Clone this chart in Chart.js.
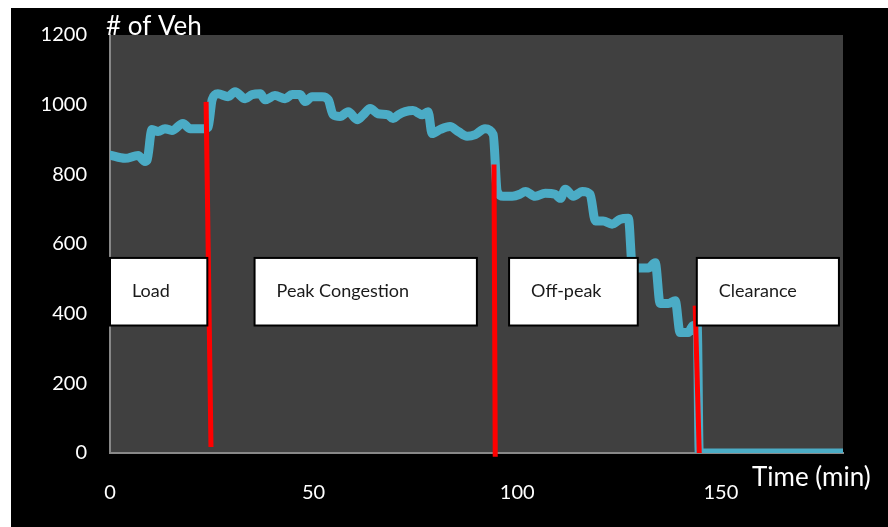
<!DOCTYPE html>
<html lang="en">

<head>
    <meta charset="UTF-8">
    <title>Vehicles over time</title>
    <script src="https://cdn.jsdelivr.net/npm/chart.js"></script>
    <style>
        body {
            margin: 0;
            background-color: #ffffff;
        }

        #frame {
            position: absolute;
            left: 11px;
            top: 8px;
            width: 877px;
            height: 519px;
            background-color: #000000;
        }
    </style>
</head>

<body>
    <div id="frame">
        <canvas id="vehChart" width="877" height="519"></canvas>
    </div>

    <script>
        // vehicles in the network
        const minutes = [0, 3.7, 6.9, 8.6, 9.1, 10.3, 11.8, 13.5, 15.2, 17.9, 19.7, 21.4, 23.3, 24.1,
            25.1, 26.5, 29.0, 30.7, 33.2, 34.9, 36.9, 38.1, 40.5, 43.0, 44.7, 46.7, 47.9, 49.6,
            52.1, 53.6, 54.8, 56.5, 58.5, 60.7, 62.2, 63.9, 65.8, 68.3, 69.5, 70.8, 72.5, 74.4,
            76.7, 78.1, 79.1, 81.1, 83.5, 85.5, 87.7, 89.7, 92.1, 94.1, 95.1, 96.6, 98.8, 100.7,
            102.0, 104.4, 106.9, 109.3, 110.6, 111.8, 113.8, 116.0, 117.9, 119.2, 121.1, 123.3,
            125.3, 127.3, 128.3, 132.2, 133.9, 135.1, 137.1, 138.8, 140.0, 142.0, 143.2, 144.2,
            144.7, 160, 180];
        const vehicles = [855, 846, 854, 837, 840, 929, 923, 931, 926, 946, 931, 931, 931, 935,
            1015, 1031, 1023, 1037, 1017, 1029, 1031, 1014, 1026, 1017, 1029, 1029, 1009, 1023,
            1023, 1014, 971, 966, 980, 957, 971, 989, 974, 971, 960, 971, 980, 983,
            971, 980, 917, 929, 937, 923, 909, 914, 931, 914, 751, 737, 737, 743,
            751, 737, 746, 743, 731, 757, 737, 751, 743, 666, 666, 657,
            671, 674, 531, 531, 546, 429, 429, 437, 346, 346, 366, 366,
            0, 0, 0];

        // phase dividers (red lines)
        const dividerTopX = [23.6, 94.3, 143.7];
        const dividerTopY = [1008, 828, 423];
        const dividerBottomX = [24.8, 94.6, 144.7];
        const dividerBottomY = [17, -11, 0];

        // phase label boxes
        const phaseNames = ["Load", "Peak Congestion", "Off-peak", "Clearance"];
        const phaseFrom = [0, 35.5, 98, 144.1];
        const phaseTo = [23.9, 90.1, 129.6, 179];
        const boxHigh = 560;
        const boxLow = 366;

        const xTicks = [0, 50, 100, 150];
        const yTicks = [0, 200, 400, 600, 800, 1000, 1200];

        const fontFamily = "Lato, 'Open Sans', sans-serif";

        const datasets = [{
            data: minutes.map((m, i) => ({ x: m, y: vehicles[i] })),
            borderColor: "#4BACC6",
            borderWidth: 9,
            borderJoinStyle: "round",
            borderCapStyle: "round",
            pointRadius: 0,
            cubicInterpolationMode: "monotone",
            order: 2
        }];
        dividerTopX.forEach((x, i) => {
            datasets.push({
                data: [{ x: x, y: dividerTopY[i] }, { x: dividerBottomX[i], y: dividerBottomY[i] }],
                borderColor: "#FF0000",
                borderWidth: 5,
                pointRadius: 0,
                tension: 0,
                clip: false,
                order: 1
            });
        });

        const plotBackground = {
            id: "plotBackground",
            beforeDraw(chart) {
                const { ctx, chartArea } = chart;
                ctx.save();
                ctx.fillStyle = "#404040";
                ctx.fillRect(chartArea.left, chartArea.top, chartArea.right - chartArea.left, chartArea.bottom - chartArea.top);
                ctx.restore();
            }
        };

        const phaseBoxes = {
            id: "phaseBoxes",
            afterDatasetsDraw(chart) {
                const { ctx, scales } = chart;
                ctx.save();
                phaseNames.forEach((name, i) => {
                    const x1 = scales.x.getPixelForValue(phaseFrom[i]);
                    const x2 = scales.x.getPixelForValue(phaseTo[i]);
                    const y1 = scales.y.getPixelForValue(boxHigh);
                    const y2 = scales.y.getPixelForValue(boxLow);
                    ctx.fillStyle = "#ffffff";
                    ctx.fillRect(x1, y1, x2 - x1, y2 - y1);
                    ctx.strokeStyle = "#000000";
                    ctx.lineWidth = 2;
                    ctx.strokeRect(x1, y1, x2 - x1, y2 - y1);
                    ctx.fillStyle = "#1a1a1a";
                    ctx.font = "18px " + fontFamily;
                    ctx.textBaseline = "middle";
                    ctx.textAlign = "left";
                    ctx.fillText(name, x1 + 22, (y1 + y2) / 2 - 1);
                });
                ctx.restore();
            }
        };

        const axisTitles = {
            id: "axisTitles",
            afterDraw(chart) {
                const { ctx } = chart;
                ctx.save();
                ctx.fillStyle = "#ffffff";
                ctx.font = "26px " + fontFamily;
                ctx.textBaseline = "middle";
                ctx.textAlign = "left";
                ctx.fillText("# of Veh", 95, 19);
                ctx.fillText("Time (min)", 741, 470);
                ctx.restore();
            }
        };

        new Chart(document.getElementById("vehChart"), {
            type: "line",
            data: { datasets: datasets },
            options: {
                responsive: false,
                animation: false,
                layout: { padding: { top: 27, right: 45, left: 0, bottom: 0 } },
                plugins: {
                    legend: { display: false },
                    tooltip: { enabled: false }
                },
                scales: {
                    x: {
                        type: "linear",
                        min: 0,
                        max: 180,
                        grid: { display: false, drawTicks: false },
                        border: { color: "#888888", width: 2 },
                        afterBuildTicks: (scale) => { scale.ticks = xTicks.map(v => ({ value: v })); },
                        afterFit: (scale) => {
                            scale.height = 74;
                            scale.paddingLeft = 0;
                            scale.paddingRight = 0;
                        },
                        ticks: {
                            color: "#ffffff",
                            font: { size: 20, family: fontFamily },
                            padding: 28,
                            maxRotation: 0,
                            callback: (v) => String(v)
                        }
                    },
                    y: {
                        min: 0,
                        max: 1200,
                        grid: { display: false, drawTicks: false },
                        border: { color: "#888888", width: 2 },
                        afterBuildTicks: (scale) => { scale.ticks = yTicks.map(v => ({ value: v })); },
                        afterFit: (scale) => {
                            scale.width = 99;
                            scale.paddingTop = 0;
                            scale.paddingBottom = 0;
                        },
                        ticks: {
                            color: "#ffffff",
                            font: { size: 20, family: fontFamily },
                            padding: 23,
                            callback: (v) => String(v)
                        }
                    }
                }
            },
            plugins: [plotBackground, phaseBoxes, axisTitles]
        });
    </script>
</body>

</html>
